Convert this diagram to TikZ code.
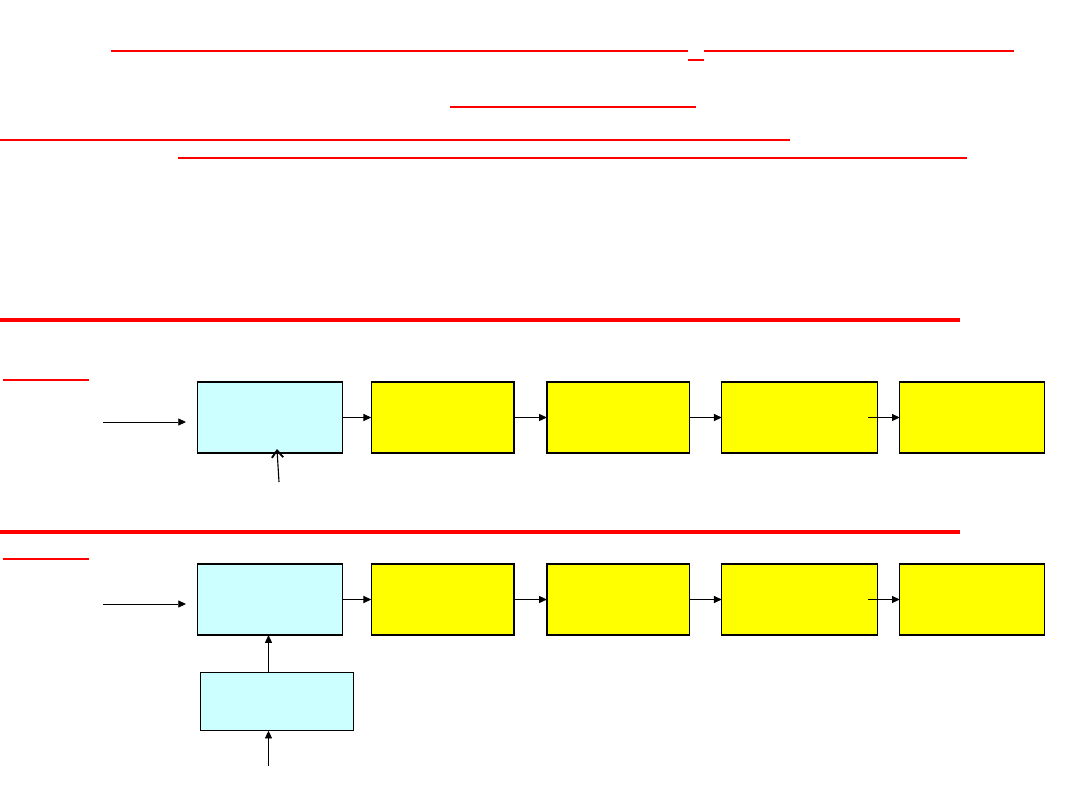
\documentclass[tikz,border=0pt]{standalone}
\usepackage{tikz}
\usetikzlibrary{arrows,arrows.meta,positioning,calc}
\definecolor{boxcyan}{HTML}{CCFFFF}
\definecolor{boxyellow}{HTML}{FFFF00}

\begin{document}
\begin{tikzpicture}[
    x=0.025cm, y=-0.025cm,
    node distance=0.75cm,
    cyanbox/.style={draw, line width=0.9pt, outer sep=0pt, rectangle, minimum width=3.57cm, minimum height=1.78cm, fill=boxcyan},
    yellowbox/.style={draw, line width=0.9pt, outer sep=0pt, rectangle, minimum width=3.57cm, minimum height=1.78cm, fill=boxyellow},
    redline/.style={draw=red, line width=1.4pt},
    arr/.style={-{Triangle[length=5.5pt,width=5pt]}, line width=0.6pt}
]
    \useasboundingbox (0,0) rectangle (1080,810);

    % Title underlines
    \draw[redline] (111,51) -- (688,51);
    \draw[redline] (704,51) -- (1014,51);
    \draw[redline] (688,60) -- (704,60);
    \draw[redline, line width=2pt] (450,107) -- (696,107);
    \draw[redline] (0,140) -- (790,140);
    \draw[redline] (178,158) -- (967,158);

    % Separators
    \draw[redline, line width=2.6pt] (0,320) -- (960,320);
    \draw[redline, line width=2.2pt] (0,532) -- (960,532);
    \draw[redline] (3,380) -- (89,380);
    \draw[redline] (3,559) -- (89,559);

    % Upper chain
    \node[cyanbox, minimum width=3.62cm] (up1) at (270,417.5) {};
    \node[yellowbox, right=0.72cm of up1] (up2) {};
    \node[yellowbox, right=0.82cm of up2] (up3) {};
    \node[yellowbox, right=0.8cm of up3, minimum width=3.9cm] (up4) {};
    \node[yellowbox, right=0.55cm of up4, minimum width=3.62cm] (up5) {};

    \coordinate (upin) at (103,422);
    \coordinate (upinend) at (186,422);
    \coordinate (upctl) at (279,482);
    \coordinate (upctlend) at (277,449);

    \draw[arr] (upin) -- (upinend);
    \draw[-{Straight Barb[length=5pt,width=8pt,line width=1.3pt]}, line width=0.8pt] (upctl) -- (upctlend);
    \draw[arr] (up1) -- (up2);
    \draw[arr] (up2) -- (up3);
    \draw[arr] (up3) -- (up4);
    \draw[arr] ([xshift=-0.25cm]up4.east) -- (up5.west);

    % Lower chain
    \node[cyanbox, minimum width=3.62cm] (lo1) at (270,599.5) {};
    \node[yellowbox, right=0.72cm of lo1] (lo2) {};
    \node[yellowbox, right=0.82cm of lo2] (lo3) {};
    \node[yellowbox, right=0.8cm of lo3, minimum width=3.9cm] (lo4) {};
    \node[yellowbox, right=0.55cm of lo4, minimum width=3.62cm] (lo5) {};
    \node[cyanbox, line width=0.7pt, minimum width=3.83cm, minimum height=1.46cm] (lo6) at (277,701.5) {};

    \coordinate (loin) at (103,604);
    \coordinate (loinend) at (186,604);
    \coordinate (loctl) at (268.5,766);

    \draw[arr] (loin) -- (loinend);
    \draw[arr] (lo6.north -| loctl) -- (lo1.south -| loctl);
    \draw[arr] (loctl) -- (lo6.south -| loctl);
    \draw[arr] (lo1) -- (lo2);
    \draw[arr] (lo2) -- (lo3);
    \draw[arr] (lo3) -- (lo4);
    \draw[arr] ([xshift=-0.25cm]lo4.east) -- (lo5.west);

\end{tikzpicture}
\end{document}
